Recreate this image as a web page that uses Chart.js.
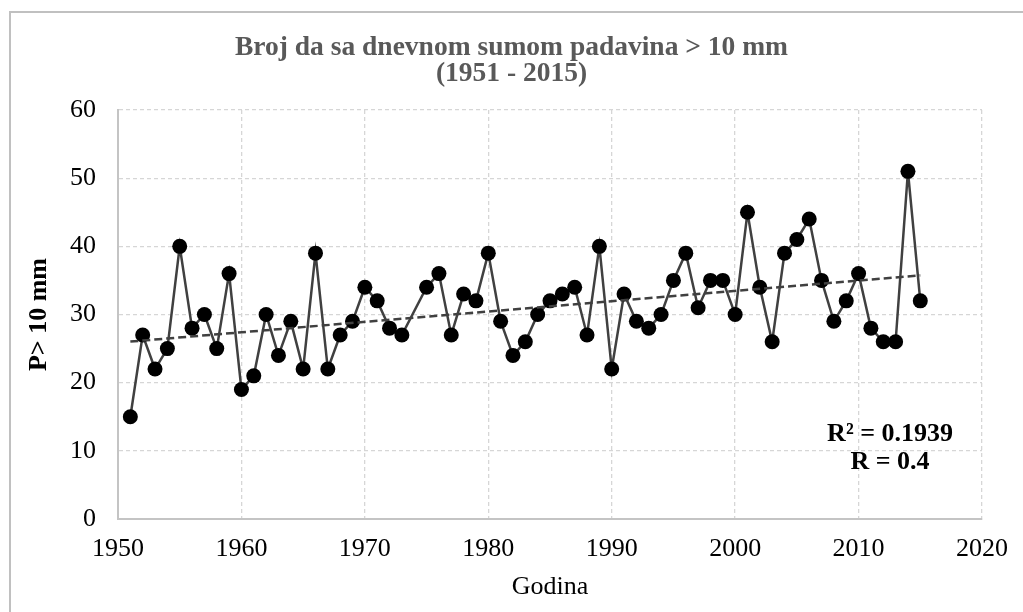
<!DOCTYPE html>
<html>
<head>
<meta charset="utf-8">
<script src="https://cdn.jsdelivr.net/npm/chart.js@4.4.1/dist/chart.umd.min.js"></script>
<style>
html,body{margin:0;padding:0;background:#fff;}
canvas{display:block;}
</style>
</head>
<body>
<canvas id="c" width="1023" height="612"></canvas>
<script>
// ---- data (1974 has no value) ----
const years = [1951,1952,1953,1954,1955,1956,1957,1958,1959,1960,
  1961,1962,1963,1964,1965,1966,1967,1968,1969,1970,
  1971,1972,1973,1975,1976,1977,1978,1979,1980,
  1981,1982,1983,1984,1985,1986,1987,1988,1989,1990,
  1991,1992,1993,1994,1995,1996,1997,1998,1999,2000,
  2001,2002,2003,2004,2005,2006,2007,2008,2009,2010,
  2011,2012,2013,2014,2015];
const values = [15,27,22,25,40,28,30,25,36,19,
  21,30,24,29,22,39,22,27,29,34,
  32,28,27,34,36,27,33,32,39,
  29,24,26,30,32,33,34,27,40,22,
  33,29,28,30,35,39,31,35,35,30,
  45,34,26,39,41,44,35,29,32,36,
  28,26,26,51,32];
const xTickValues = [1950,1960,1970,1980,1990,2000,2010,2020];
const yTickValues = [0,10,20,30,40,50,60];
const titleLines = ['Broj da sa dnevnom sumom padavina > 10 mm', '(1951 - 2015)'];
const xTitle = 'Godina';
const yTitle = 'P> 10 mm';
const statLines = ['R\u00B2 = 0.1939', 'R = 0.4'];
const statAnchor = {x: 2012.55, y1: 12.45, y2: 8.35};

// linear trend (least squares) of the series
const n = years.length;
const mx = years.reduce((a,b)=>a+b,0)/n;
const my = values.reduce((a,b)=>a+b,0)/n;
let sxy = 0, sxx = 0;
for (let i = 0; i < n; i++) { sxy += (years[i]-mx)*(values[i]-my); sxx += (years[i]-mx)**2; }
const slope = sxy/sxx, intercept = my - slope*mx;
const trendYears = [years[0], years[n-1]];

const FONT = "'Liberation Serif', 'Times New Roman', serif";

const framePlugin = {
  id: 'frame',
  afterDraw(chart) {
    const ctx = chart.ctx;
    ctx.save();
    ctx.strokeStyle = '#c0c0c0';
    ctx.lineWidth = 2;
    ctx.beginPath();
    ctx.moveTo(10, 700);
    ctx.lineTo(10, 12);
    ctx.lineTo(1100, 12);
    ctx.stroke();
    ctx.restore();
  }
};

const statPlugin = {
  id: 'stat',
  afterDatasetsDraw(chart) {
    const ctx = chart.ctx;
    const xs = chart.scales.x, ys = chart.scales.y;
    ctx.save();
    ctx.font = 'bold 26px ' + FONT;
    ctx.fillStyle = '#000';
    ctx.textAlign = 'center';
    ctx.textBaseline = 'middle';
    const px = xs.getPixelForValue(statAnchor.x);
    ctx.fillText(statLines[0], px, ys.getPixelForValue(statAnchor.y1));
    ctx.fillText(statLines[1], px, ys.getPixelForValue(statAnchor.y2));
    ctx.restore();
  }
};

new Chart(document.getElementById('c'), {
  type: 'scatter',
  data: {
    datasets: [
      {
        label: 'trend',
        data: trendYears.map(y => ({x: y, y: intercept + slope*y})),
        showLine: true,
        borderColor: '#404040',
        borderWidth: 2.5,
        borderDash: [8, 4],
        pointRadius: 0,
        order: 0
      },
      {
        label: 'P>10mm',
        data: years.map((y, i) => ({x: y, y: values[i]})),
        showLine: true,
        borderColor: '#404040',
        borderWidth: 2.5,
        pointRadius: 7.5,
        pointBackgroundColor: '#000',
        pointBorderColor: '#000',
        pointBorderWidth: 0,
        order: 1
      }
    ]
  },
  options: {
    responsive: false,
    animation: false,
    devicePixelRatio: 1,
    layout: {padding: {left: 30, right: 30, top: 0, bottom: 0}},
    plugins: {
      legend: {display: false},
      tooltip: {enabled: false},
      title: {
        display: true,
        text: titleLines,
        color: '#595959',
        font: {family: FONT, size: 27.5, weight: 'bold', lineHeight: '26px'},
        padding: {top: 35, bottom: 23}
      }
    },
    scales: {
      x: {
        type: 'linear',
        min: 1950, max: 2020,
        afterBuildTicks: s => { s.ticks = xTickValues.map(v => ({value: v})); },
        afterFit: s => { s.height = 93; },
        grid: {color: '#d6d6d6', lineWidth: 1.3, drawTicks: false},
        border: {display: true, color: '#c4c4c4', width: 2, dash: [4, 3]},
        ticks: {color: '#000', padding: 15, maxRotation: 0, autoSkip: false,
          font: {family: FONT, size: 26, lineHeight: 1.2}, callback: v => String(v)},
        title: {display: true, text: xTitle, color: '#000',
          font: {family: FONT, size: 26, lineHeight: 1.2}, padding: {top: 0, bottom: 9.4}}
      },
      y: {
        type: 'linear',
        min: 0, max: 60,
        afterBuildTicks: s => { s.ticks = yTickValues.map(v => ({value: v})); },
        afterFit: s => { s.width = 88; },
        grid: {color: '#d6d6d6', lineWidth: 1.3, drawTicks: false},
        border: {display: true, color: '#c4c4c4', width: 2, dash: [4, 3]},
        ticks: {color: '#000', padding: 22, autoSkip: false,
          font: {family: FONT, size: 26, lineHeight: 1.2}, callback: v => String(v)},
        title: {display: true, text: yTitle, color: '#000',
          font: {family: FONT, size: 26, weight: 'bold', lineHeight: '19px'}, padding: {top: 0, bottom: 0}}
      }
    }
  },
  plugins: [framePlugin, statPlugin]
});
</script>
</body>
</html>
